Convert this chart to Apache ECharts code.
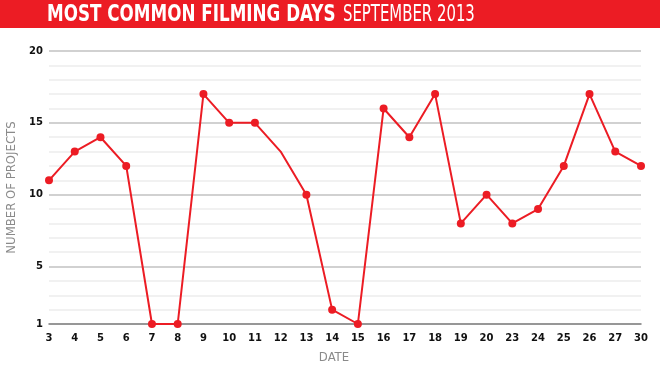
<!DOCTYPE html>
<html><head><meta charset="utf-8">
<script src="https://cdn.jsdelivr.net/npm/echarts@6/dist/echarts.min.js"></script>
<style>html,body{margin:0;padding:0;background:#fff}#c{width:660px;height:370px}</style>
</head><body><div id="c"></div>
<script>
const categories = ['3','4','5','6','7','8','9','10','11','12','13','14','15','16','17','18','19','20','23','24','25','26','27','30'];
const projects = [11,13,14,12,1,1,17,15,15,13,10,2,1,16,14,17,8,10,8,9,12,17,13,12];
const unmarkedDays = ['12'];
const yTickLabels = [1,5,10,15,20];
const titleBold = 'MOST COMMON FILMING DAYS';
const titleLight = 'SEPTEMBER 2013';

const RED = '#ec1c24';
const chart = echarts.init(document.getElementById('c'), null, {renderer:'canvas'});
chart.setOption({
  animation:false,
  backgroundColor:'#fff',
  graphic:[
    {type:'rect', shape:{x:0,y:0,width:660,height:28}, style:{fill:RED}, z:0},
    {type:'text', x:47, y:15, scaleX:0.81, z:1,
      style:{text:titleBold, fill:'#fff', font:'bold 23px "DejaVu Sans Condensed","DejaVu Sans"', textVerticalAlign:'middle', verticalAlign:'middle'}},
    {type:'text', x:343, y:15, scaleX:0.72, z:1,
      style:{text:titleLight, fill:'#fff', font:'23px "DejaVu Sans Condensed","DejaVu Sans"', textVerticalAlign:'middle', verticalAlign:'middle'}}
  ],
  grid:{left:49,right:19,top:51,height:273,containLabel:false,outerBoundsMode:'none'},
  xAxis:{
    type:'category', data:categories, boundaryGap:false,
    name:'DATE', nameLocation:'middle', nameGap:27,
    nameTextStyle:{color:'#8a8a8a', fontFamily:'"DejaVu Sans Condensed","DejaVu Sans"', fontSize:13, padding:[0,22,0,0]},
    axisLine:{show:true, lineStyle:{color:'#7a7a7a', width:1.5}},
    axisTick:{show:false},
    axisLabel:{color:'#111', fontFamily:'"DejaVu Sans"', fontWeight:'bold', fontSize:10, margin:9, interval:0},
    splitLine:{show:false}
  },
  yAxis:{
    type:'value', min:1, max:20, interval:1,
    name:'NUMBER OF PROJECTS', nameLocation:'middle', nameGap:25, nameRotate:90,
    nameTextStyle:{color:'#8a8a8a', fontFamily:'"DejaVu Sans Condensed","DejaVu Sans"', fontSize:13},
    axisLine:{show:false}, axisTick:{show:false},
    axisLabel:{color:'#111', fontFamily:'"DejaVu Sans"', fontWeight:'bold', fontSize:10, margin:6,
      formatter:v=>yTickLabels.includes(v)?String(v):''},
    splitLine:{show:true, lineStyle:{color:['#ececec','#ececec','#ececec','#ececec','#c2c2c2'], width:1.5}}
  },
  series:[{
    type:'line',
    data:projects.map((v,i)=>unmarkedDays.includes(categories[i])?{value:v,symbol:'none'}:v),
    symbol:'circle', symbolSize:8,
    itemStyle:{color:RED},
    lineStyle:{color:RED, width:2},
    z:5
  }]
});
</script></body></html>
